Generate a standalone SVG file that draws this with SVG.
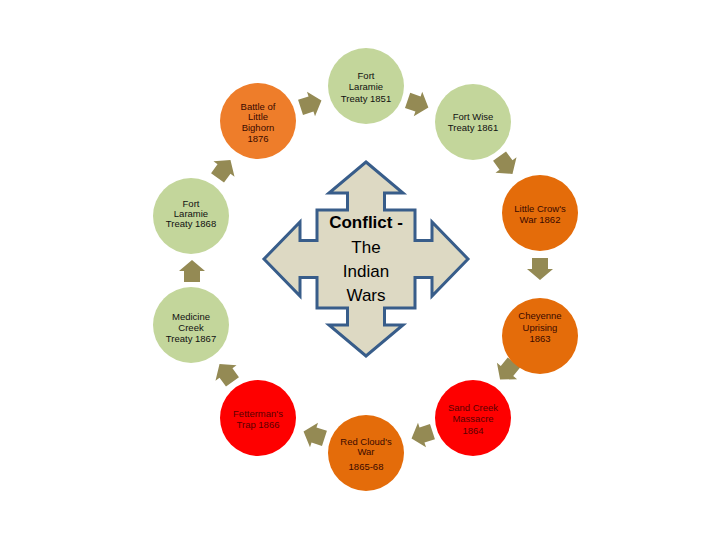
<svg xmlns="http://www.w3.org/2000/svg" xmlns:xlink="http://www.w3.org/1999/xlink" width="720" height="540" viewBox="0 0 720 540">
<style>
.g{fill:#C3D69B}
.o{fill:#E46C0A}
.o2{fill:#EE7D2A}
.r{fill:#FE0000}
.t{font-family:"Liberation Sans",Arial,sans-serif;font-size:9.5px;text-anchor:middle}
.tg{fill:#111}
.to{fill:#3a0a00}
.tr{fill:#5a0000}
.arr{fill:#948A54}
.big{fill:#DDD9C3;stroke:#385D8A;stroke-width:3;stroke-linejoin:miter}
.ct{font-family:"Liberation Sans",Arial,sans-serif;font-size:17px;text-anchor:middle;fill:#000}
</style>
<defs>
<path id="arr" class="arr" d="M-11,-8 H0 V-13 L11,0 L0,13 V8 H-11 Z"/>
</defs>
<rect width="720" height="540" fill="#fff"/>
<g id="connectors">
<use xlink:href="#arr" href="#arr" transform="translate(311,104) rotate(-18)"/>
<use xlink:href="#arr" href="#arr" transform="translate(418,104) rotate(19)"/>
<use xlink:href="#arr" href="#arr" transform="translate(506,165) rotate(54)"/>
<use xlink:href="#arr" href="#arr" transform="translate(540,269) rotate(90)"/>
<use xlink:href="#arr" href="#arr" transform="translate(507,371) rotate(129)"/>
<use xlink:href="#arr" href="#arr" transform="translate(422,435) rotate(162)"/>
<use xlink:href="#arr" href="#arr" transform="translate(314,435) rotate(198)"/>
<use xlink:href="#arr" href="#arr" transform="translate(226,373) rotate(234)"/>
<use xlink:href="#arr" href="#arr" transform="translate(192,271) rotate(270)"/>
<use xlink:href="#arr" href="#arr" transform="translate(224,169) rotate(306)"/>
</g>
<g id="center">
<path class="big" d="M366,162 L403,193 L384.5,193 L384.5,210 L415,210 L415,240.5 L432,240.5 L432,222 L468,259 L432,296 L432,277.5 L415,277.5 L415,308 L384.5,308 L384.5,325 L403,325 L366,356 L329,325 L347.5,325 L347.5,308 L317,308 L317,277.5 L300,277.5 L300,296 L264,259 L300,222 L300,240.5 L317,240.5 L317,210 L347.5,210 L347.5,193 L329,193 Z"/>
<text class="ct" x="366" y="228" font-weight="bold">Conflict -</text>
<text class="ct" x="366" y="253">The</text>
<text class="ct" x="366" y="277">Indian</text>
<text class="ct" x="366" y="301">Wars</text>
</g>
<g id="n1851">
<circle class="g" cx="366" cy="86" r="38"/>
<text class="t tg" x="366" y="78.5">Fort</text>
<text class="t tg" x="366" y="90">Laramie</text>
<text class="t tg" x="366" y="101.5">Treaty 1851</text>
</g>
<g id="n1861">
<circle class="g" cx="473" cy="122" r="38"/>
<text class="t tg" x="473" y="119.5">Fort Wise</text>
<text class="t tg" x="473" y="131">Treaty 1861</text>
</g>
<g id="n1862">
<circle class="o" cx="540" cy="213" r="38"/>
<text class="t to" x="540" y="211.5">Little Crow's</text>
<text class="t to" x="540" y="223">War 1862</text>
</g>
<g id="n1863">
<circle class="o" cx="540" cy="336" r="38"/>
<text class="t to" x="540" y="319">Cheyenne</text>
<text class="t to" x="540" y="330.5">Uprising</text>
<text class="t to" x="540" y="342">1863</text>
</g>
<g id="n1864">
<circle class="r" cx="473" cy="418" r="38"/>
<text class="t tr" x="473" y="410.5">Sand Creek</text>
<text class="t tr" x="473" y="422">Massacre</text>
<text class="t tr" x="473" y="433.5">1864</text>
</g>
<g id="n1865">
<circle class="o" cx="366" cy="453" r="38"/>
<text class="t to" x="366" y="444.5">Red Cloud's</text>
<text class="t to" x="366" y="455">War</text>
<text class="t to" x="366" y="470">1865-68</text>
</g>
<g id="n1866">
<circle class="r" cx="258" cy="418" r="38"/>
<text class="t tr" x="258" y="416.5">Fetterman's</text>
<text class="t tr" x="258" y="428">Trap 1866</text>
</g>
<g id="n1867">
<circle class="g" cx="191" cy="325" r="38"/>
<text class="t tg" x="191" y="319.5">Medicine</text>
<text class="t tg" x="191" y="331">Creek</text>
<text class="t tg" x="191" y="342">Treaty 1867</text>
</g>
<g id="n1868">
<circle class="g" cx="191" cy="216" r="38"/>
<text class="t tg" x="191" y="206.5">Fort</text>
<text class="t tg" x="191" y="217">Laramie</text>
<text class="t tg" x="191" y="227">Treaty 1868</text>
</g>
<g id="n1876">
<circle class="o2" cx="258" cy="121" r="38"/>
<text class="t to" x="258" y="109.5">Battle of</text>
<text class="t to" x="258" y="120">Little</text>
<text class="t to" x="258" y="131">Bighorn</text>
<text class="t to" x="258" y="141.5">1876</text>
</g>
</svg>
